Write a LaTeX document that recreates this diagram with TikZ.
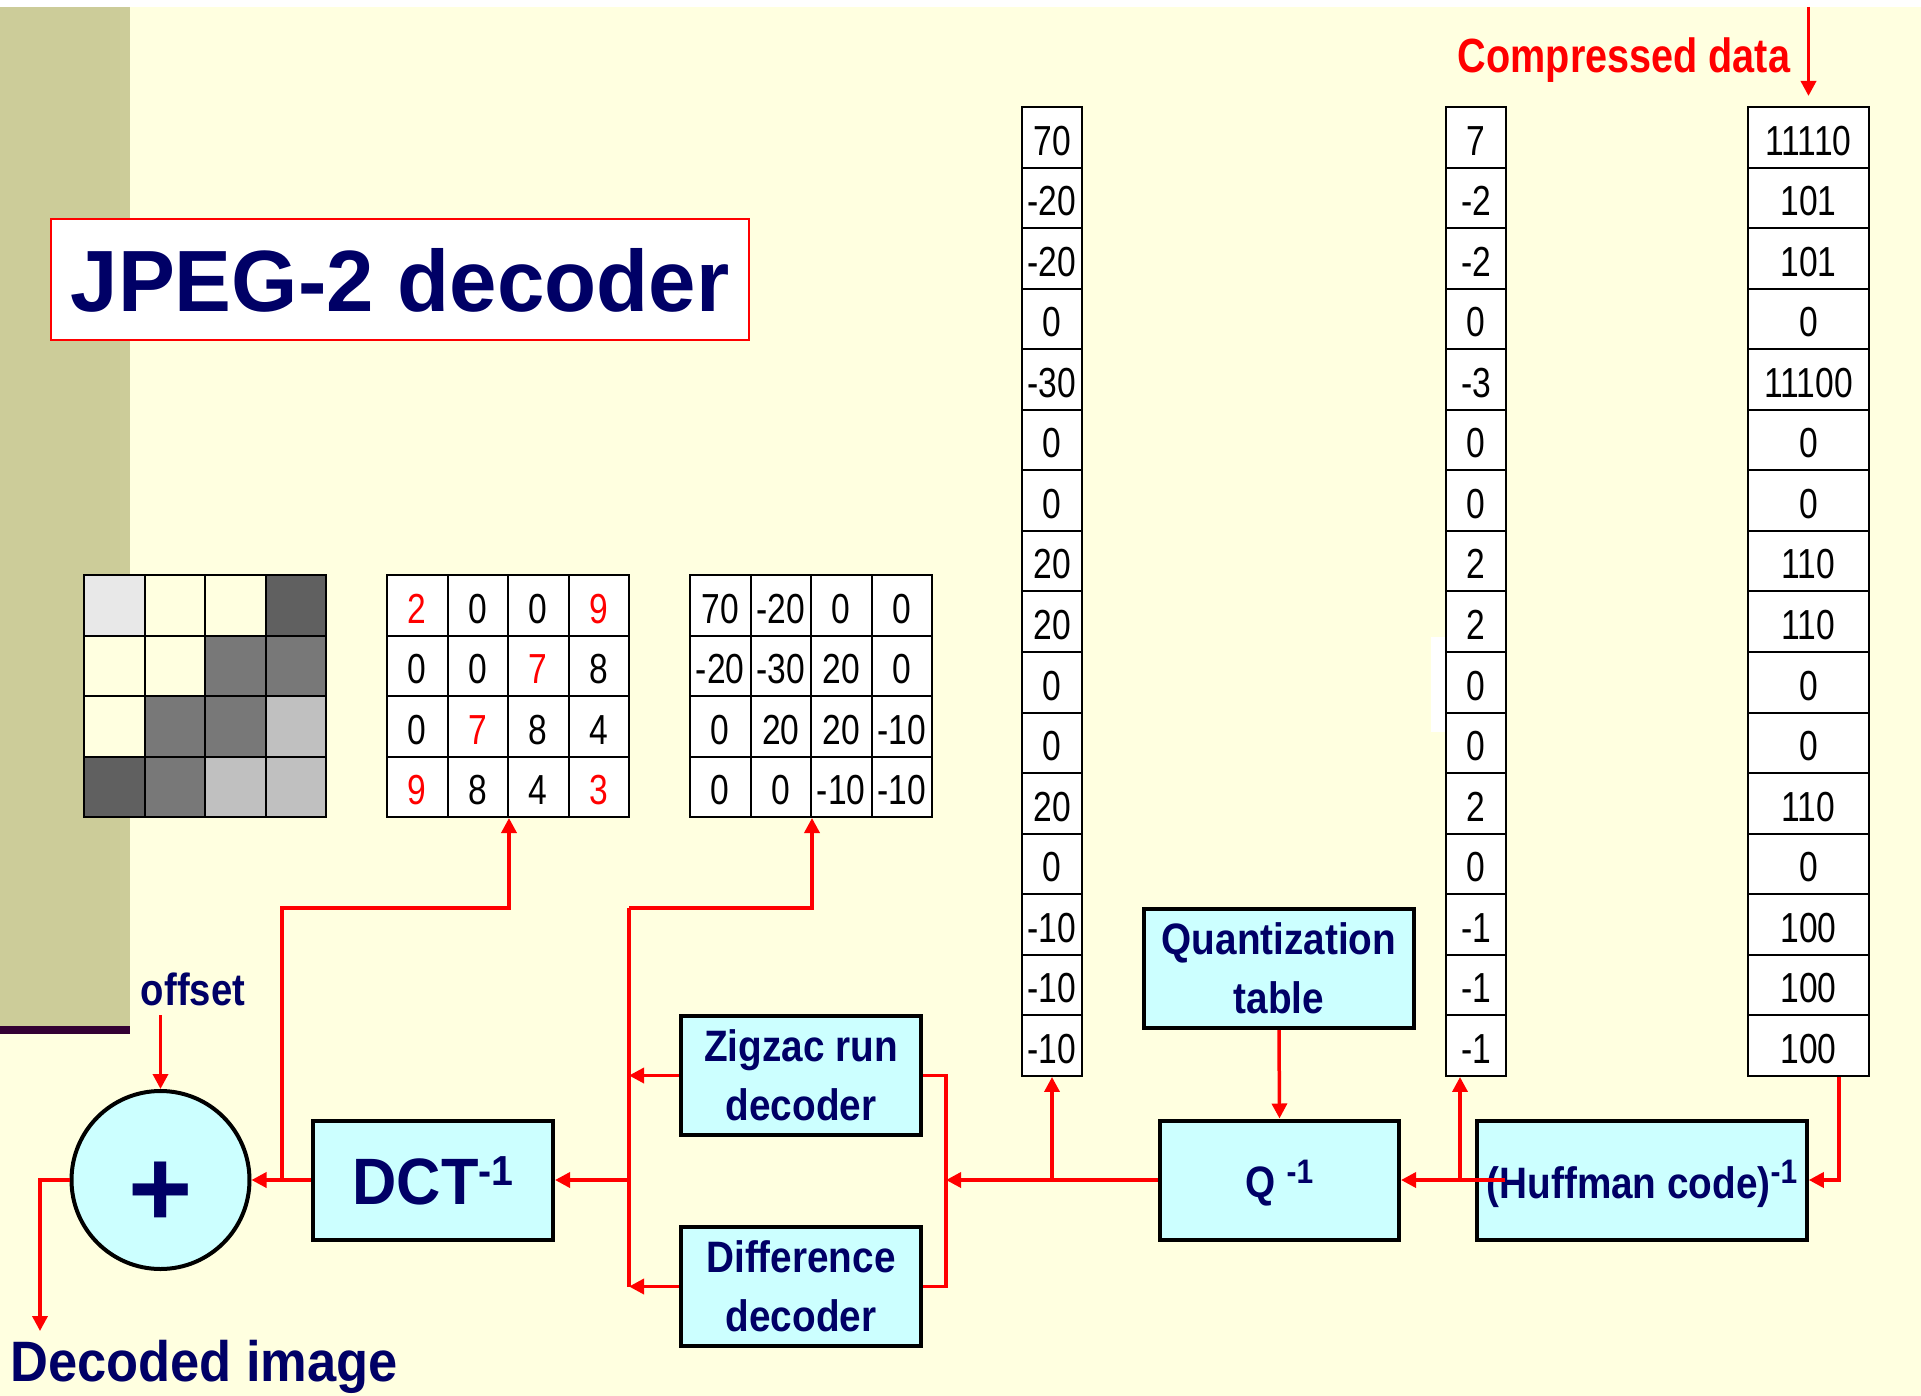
\documentclass[tikz,border=0pt]{standalone}
\usepackage{fontspec}
\usepackage{graphicx}
\setmainfont{Liberation Sans}
\newfontfamily\numf{Liberation Sans}[FakeStretch=0.80]
\newfontfamily\boxf{Liberation Sans}[FakeStretch=0.88]
\newfontfamily\compf{Liberation Sans}[FakeStretch=0.825]
\newfontfamily\offf{Liberation Sans}[FakeStretch=0.85]
\newfontfamily\decf{Liberation Sans}[FakeStretch=0.92]
\newfontfamily\dctf{Liberation Sans}[FakeStretch=0.935]
\newfontfamily\titf{Liberation Sans}[FakeStretch=0.98]
\usetikzlibrary{arrows.meta,calc}

\definecolor{cream}{RGB}{255,255,224}
\definecolor{olive}{RGB}{204,204,153}
\definecolor{plum}{RGB}{51,0,51}
\definecolor{navy}{RGB}{0,0,102}
\definecolor{boxfill}{RGB}{204,255,255}
\definecolor{pxpale}{RGB}{232,232,232}
\definecolor{pxlight}{RGB}{192,192,192}
\definecolor{pxmid}{RGB}{120,120,120}
\definecolor{pxdark}{RGB}{96,96,96}

\tikzset{
  wire/.style={red, line width=1.75pt},
  conn/.style={wire, -{Triangle[length=7.5pt,width=7.5pt]}},
  cellbox/.style={draw=black, line width=1pt, fill=white, inner sep=0pt,
    minimum width=30.25pt, minimum height=30.25pt,
    text height=17.75pt, text depth=0pt,
    font=\numf\fontsize{21pt}{21pt}\selectfont},
  colcell/.style={cellbox, minimum height=30.28pt},
  block/.style={draw=black, line width=2pt, fill=boxfill, inner sep=0pt,
    minimum width=120pt, minimum height=59.5pt, align=center, text=navy,
    font=\boxf\bfseries\fontsize{22pt}{29.5pt}\selectfont},
}

\begin{document}
\begin{tikzpicture}[x=0.5pt,y=-0.5pt]
  % page and side band
  \useasboundingbox (0,0) rectangle (1921,1396);
  \fill[white] (0,0) rectangle (1921,1396);
  \fill[cream] (0,7) rectangle (1921,1396);
  \fill[olive] (0,7) rectangle (130,1026);
  \fill[plum] (0,1026) rectangle (130,1034);
  \fill[white] (1431,637) rectangle (1445,732);

  % title
  \node[draw=red, line width=1pt, fill=white, inner sep=0pt,
        minimum width=349pt, minimum height=60.5pt,
        text height=31.5pt, text depth=0pt, text=navy,
        font=\titf\bfseries\fontsize{43.5pt}{43.5pt}\selectfont]
        (title) at (400,279.5) {JPEG-2 decoder};

  % 4x4 pixel block
  \foreach \c [count=\k from 0] in {pxpale,cream,cream,pxdark,
                                    cream,cream,pxmid,pxmid,
                                    cream,pxmid,pxmid,pxlight,
                                    pxdark,pxmid,pxlight,pxlight}{
    \pgfmathtruncatemacro\r{\k/4}
    \pgfmathtruncatemacro\cc{mod(\k,4)}
    \node[cellbox, fill=\c] (g1-\r-\cc) at ({84.5+60.4*(\cc+0.5)},{575+60.5*(\r+0.5)}) {};
  }

  % decoded sample values
  \foreach \col/\v [count=\k from 0] in {red/2,black/0,black/0,red/9,
                                         black/0,black/0,red/7,black/8,
                                         black/0,red/7,black/8,black/4,
                                         red/9,black/8,black/4,red/3}{
    \pgfmathtruncatemacro\r{\k/4}
    \pgfmathtruncatemacro\cc{mod(\k,4)}
    \node[cellbox, text=\col] (g2-\r-\cc) at ({387+60.5*(\cc+0.5)},{575+60.5*(\r+0.5)}) {\v};
  }

  % dequantized coefficients
  \foreach \v [count=\k from 0] in {70,-20,0,0, -20,-30,20,0, 0,20,20,-10, 0,0,-10,-10}{
    \pgfmathtruncatemacro\r{\k/4}
    \pgfmathtruncatemacro\cc{mod(\k,4)}
    \node[cellbox] (g3-\r-\cc) at ({690+60.5*(\cc+0.5)},{575+60.5*(\r+0.5)}) {\v};
  }

  % zigzag sequences
  \foreach \v [count=\i from 0] in {70,-20,-20,0,-30,0,0,20,20,0,0,20,0,-10,-10,-10}
    \node[colcell] (c1-\i) at (1052,{107+60.56*(\i+0.5)}) {\v};
  \foreach \v [count=\i from 0] in {7,-2,-2,0,-3,0,0,2,2,0,0,2,0,-1,-1,-1}
    \node[colcell] (c2-\i) at (1476,{107+60.56*(\i+0.5)}) {\v};
  \foreach \v [count=\i from 0] in {11110,101,101,0,11100,0,0,110,110,0,0,110,0,100,100,100}
    \node[colcell, minimum width=60.5pt] (c3-\i) at (1808.5,{107+60.56*(\i+0.5)}) {\v};

  % processing blocks
  \node[block] (zz) at (801,1075.5) {Zigzac run\\decoder};
  \node[block] (diff) at (801,1286.5) {Difference\\decoder};
  \node[block, text height=24pt, text depth=0pt,
        font=\dctf\bfseries\fontsize{32.8pt}{32.8pt}\selectfont]
        (dct) at (433,1180) {DCT\raisebox{9.5pt}{\fontsize{21pt}{21pt}\selectfont -1}};
  \node[block, minimum width=135pt] (qt) at (1279,968.5) {Quantization\\table};
  \node[block, minimum width=119.5pt, text height=17pt, text depth=0pt]
        (q) at (1279.5,1180) {Q\ \raisebox{7pt}{\fontsize{17pt}{17pt}\selectfont -1}};
  \node[block, minimum width=164.75pt, text height=18pt, text depth=0pt]
        (huff) at (1642,1180) {(Huffman code)\raisebox{7.5pt}{\fontsize{17pt}{17pt}\selectfont -1}};
  \node[circle, draw=black, line width=2pt, fill=boxfill, inner sep=0pt,
        minimum size=89pt, text=navy, text height=46pt, text depth=0pt,
        font=\bfseries\fontsize{55pt}{55pt}\selectfont]
        (sum) at (160.5,1180) {+};

  % labels
  \node[anchor=base, text=red, font=\compf\bfseries\fontsize{24pt}{24pt}\selectfont]
        (cdlab) at (1624,73) {Compressed data};
  \node[anchor=base, text=navy, font=\offf\bfseries\fontsize{22.5pt}{22.5pt}\selectfont]
        (offlab) at (193,1005) {offset};
  \node[anchor=base, text=navy, font=\decf\bfseries\fontsize{28.5pt}{28.5pt}\selectfont]
        (declab) at (204,1381) {Decoded image};

  % junction points
  \coordinate (cdin) at (1808.5,7);
  \coordinate (hsrc) at (1505,1180);
  \coordinate (hb) at ($(c2-15.south)+(-16,0)$);
  \coordinate (rbus) at (946,1180);
  \coordinate (lbus) at (629,1180);
  \coordinate (ltop) at (629,908);
  \coordinate (dbr) at (282,1180);
  \coordinate (dtop) at (282,908);
  \coordinate (offin) at (160.5,1015);
  \coordinate (outc) at (40,1331);

  % connectors
  \draw[conn, shorten >=5pt] (cdin) -- (c3-0.north);
  \draw[conn] ($(c3-15.south)+(30.5,0)$) |- (huff.east);
  \draw[conn] (hsrc) -- (q.east);
  \draw[conn] (hb |- q.east) -- (hb);
  \draw[conn] (qt.south) -- (q.north);
  \draw[conn] (q.west) -- (rbus);
  \draw[conn] (c1-15.south |- q.west) -- (c1-15.south);
  \draw[wire] (zz.east) -| (rbus) |- (diff.east);
  \draw[conn] (zz.west) -- (lbus |- zz.west);
  \draw[conn] (diff.west) -- (lbus |- diff.west);
  \draw[wire] (lbus |- diff.west) -- (ltop);
  \draw[conn] (ltop) -| (g3-3-1.south east);
  \draw[conn] (lbus) -- (dct.east);
  \draw[conn] (dct.west) -- (sum.east);
  \draw[conn] (dbr) -- (dtop) -| (g2-3-1.south east);
  \draw[conn] (offin) -- (sum.north);
  \draw[conn] (sum.west) -| (outc);
\end{tikzpicture}
\end{document}
